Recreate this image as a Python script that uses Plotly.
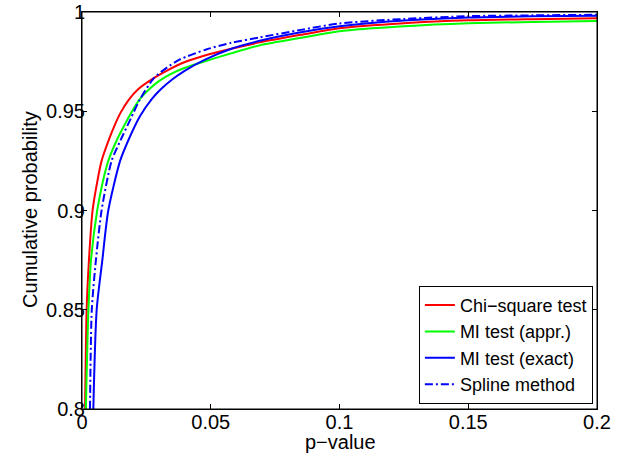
import plotly.graph_objects as go

# ---- data ----
chi_p = [0.0012, 0.0018, 0.0027, 0.0041, 0.0060, 0.0076, 0.0103, 0.0128, 0.0150, 0.0180,
         0.0220, 0.0280, 0.0330, 0.0400, 0.0480, 0.0580, 0.0690, 0.0850, 0.1000, 0.1250,
         0.1500, 0.1750, 0.2000]
chi_v = [0.800, 0.850, 0.875, 0.900, 0.915, 0.925, 0.9352, 0.9433, 0.9493, 0.9555,
         0.9613, 0.9668, 0.9705, 0.9748, 0.9782, 0.9815, 0.9847, 0.9885, 0.9918, 0.9943,
         0.9958, 0.9964, 0.9968]

mia_p = [0.0015, 0.0025, 0.0035, 0.0059, 0.0080, 0.0102, 0.0135, 0.0160, 0.0190, 0.0225,
         0.0264, 0.0300, 0.0342, 0.0400, 0.0478, 0.0580, 0.0690, 0.0850, 0.1000, 0.1250,
         0.1500, 0.1750, 0.2000]
mia_v = [0.800, 0.850, 0.875, 0.900, 0.914, 0.925, 0.9354, 0.9418, 0.9490, 0.9562,
         0.9615, 0.9653, 0.9686, 0.9719, 0.9752, 0.9792, 0.9832, 0.9870, 0.9903, 0.9928,
         0.9943, 0.9950, 0.9955]

mie_p = [0.0044, 0.0057, 0.0079, 0.0102, 0.0148, 0.0180, 0.0225, 0.0270, 0.0303, 0.0350,
         0.0400, 0.0478, 0.0580, 0.0690, 0.0850, 0.1000, 0.1250, 0.1500, 0.1750, 0.2000]
mie_v = [0.800, 0.850, 0.875, 0.900, 0.925, 0.9354, 0.9475, 0.9560, 0.9607, 0.9660,
         0.9705, 0.9760, 0.9815, 0.9855, 0.9898, 0.9928, 0.9957, 0.9972, 0.9978, 0.9981]

spl_p = [0.0031, 0.0038, 0.0054, 0.0076, 0.0115, 0.0150, 0.0190, 0.0225, 0.0280, 0.0330,
         0.0380, 0.0480, 0.0580, 0.0690, 0.0850, 0.1000, 0.1250, 0.1500, 0.1750, 0.2000]
spl_v = [0.800, 0.850, 0.875, 0.900, 0.925, 0.9355, 0.9465, 0.9560, 0.9668, 0.9720,
         0.9761, 0.9810, 0.9845, 0.9872, 0.9910, 0.9942, 0.9965, 0.9979, 0.9983, 0.9986]

series_names = ["Chi\u2212square test", "MI test (appr.)", "MI test (exact)", "Spline method"]

x_ticks = [0, 0.05, 0.1, 0.15, 0.2]
x_ticktext = ["0", "0.05", "0.1", "0.15", "0.2"]
y_ticks = [0.8, 0.85, 0.9, 0.95, 1.0]
y_ticktext = ["0.8", "0.85", "0.9", "0.95", "1"]

FONT = "Liberation Sans, Arial, Helvetica, sans-serif"
SM = 0.7

fig = go.Figure()
fig.add_trace(go.Scatter(x=chi_p, y=chi_v, mode="lines", name=series_names[0],
                         line=dict(color="#ff0000", width=2, shape="spline", smoothing=SM)))
fig.add_trace(go.Scatter(x=mia_p, y=mia_v, mode="lines", name=series_names[1],
                         line=dict(color="#00ff00", width=2, shape="spline", smoothing=SM)))
fig.add_trace(go.Scatter(x=mie_p, y=mie_v, mode="lines", name=series_names[2],
                         line=dict(color="#0000ff", width=2, shape="spline", smoothing=SM)))
fig.add_trace(go.Scatter(x=spl_p, y=spl_v, mode="lines", name=series_names[3],
                         line=dict(color="#0000ff", width=2, shape="spline", smoothing=SM,
                                   dash="8px,3px,2px,3px")))

axis_common = dict(showline=True, linecolor="black", linewidth=1, mirror="ticks",
                   ticks="inside", ticklen=5, tickcolor="black", tickwidth=1,
                   showgrid=False, zeroline=False, automargin=False,
                   ticklabeloverflow="allow",
                   tickfont=dict(family=FONT, size=20, color="black"))

fig.update_xaxes(range=[0, 0.2], tickvals=x_ticks, ticktext=x_ticktext,
                 ticklabelstandoff=-5, **axis_common)
fig.update_yaxes(range=[0.8, 1.0], tickvals=y_ticks, ticktext=y_ticktext,
                 ticklabelstandoff=-8, **axis_common)

# full frame around the axes (MATLAB "box on")
fig.add_shape(type="rect", xref="paper", yref="paper", x0=0, y0=0, x1=1, y1=1,
              line=dict(color="black", width=1), fillcolor="rgba(0,0,0,0)", layer="above")

fig.add_annotation(text="p\u2212value", xref="paper", yref="paper", x=0.501, y=-0.084,
                   xanchor="center", yanchor="middle", showarrow=False,
                   font=dict(family=FONT, size=20, color="black"))
fig.add_annotation(text="Cumulative probability", xref="paper", yref="paper",
                   x=-0.101, y=0.504, textangle=-90,
                   xanchor="center", yanchor="middle", showarrow=False,
                   font=dict(family=FONT, size=20, color="black"))

fig.update_layout(
    width=626, height=459,
    margin=dict(l=82, r=29, t=12, b=50),
    paper_bgcolor="white", plot_bgcolor="white",
    font=dict(family=FONT, size=20, color="black"),
    showlegend=True,
    legend=dict(x=0.992, y=0.013, xanchor="right", yanchor="bottom",
                bgcolor="white", bordercolor="black", borderwidth=1,
                font=dict(family=FONT, size=18, color="black"),
                tracegroupgap=0, itemwidth=30),
)

fig.write_html("out.html", config={"displayModeBar": False},
               post_script="document.body.style.margin='0px';document.body.style.overflow='hidden';")
